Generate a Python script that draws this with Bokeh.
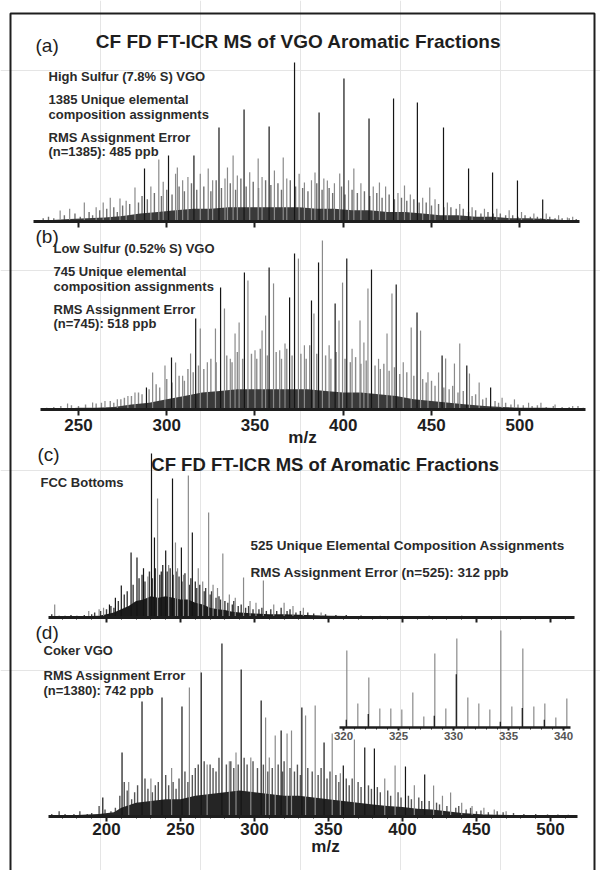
from bokeh.plotting import figure
from bokeh.models import Range1d, LinearAxis, Label, FixedTicker
from bokeh.embed import file_html
from bokeh.resources import INLINE

# ---------------- data (relative abundance, % of panel maximum) ----------------
# (a) High sulfur VGO
a_env_mz = [226, 235, 245, 255, 265, 275, 285, 295, 305, 315, 325, 335, 345, 355, 365, 375,
            385, 395, 405, 415, 425, 435, 445, 455, 465, 475, 485, 495, 505, 515, 525, 533]
a_env_int = [0.5, 1, 1.5, 2, 2.5, 3.5, 5, 6, 7, 8, 8, 9, 9, 9, 9, 9,
             8, 8, 7, 7, 6, 6, 5, 4, 4, 3, 3, 2, 2, 1.5, 1, 0.5]
a_dark_mz = [329.6, 343.8, 358.0, 372.4, 386.3, 400.4, 414.6, 428.5, 442.0, 456.8, 471.0,
             484.6, 498.7, 513.0, 287.4, 301.0, 315.4]
a_dark_int = [59.1, 70.4, 59.7, 100, 68.6, 90, 64.8, 77.4, 74.8, 59.1, 33.3,
              30.8, 25.8, 13.8, 33.3, 41.5, 41.5]
a_light_mz = [239.6, 245, 253.3, 260, 264, 268, 273.5, 277, 282, 291,
              295.5, 298, 305, 306, 309, 312, 319, 323.5, 326, 333,
              334.4, 337.6, 340, 347, 351.8, 354, 361, 366, 368, 375,
              378, 382, 384, 389, 391, 395, 398, 403, 406, 410,
              417, 420.5, 424, 431, 434.7, 438, 445, 449, 452, 459,
              466, 473, 480, 487, 494, 501, 508, 515, 522, 527, 530]
a_light_int = [6.9, 8, 11.9, 9, 12, 15, 14.5, 13, 21.4, 22,
               39, 25, 30, 34, 26, 28, 30, 33.3, 26, 27,
               34, 41.5, 29, 31, 39.6, 28, 32, 40.3, 27, 30,
               24.5, 26, 30.8, 27, 25.8, 24, 30.2, 26, 33.3, 24,
               22, 24.5, 22, 18, 22.6, 17, 15, 21.4, 14, 12,
               11, 9, 8, 8, 7, 6, 5, 5, 4, 2.5, 3]
a_grass_mz = [230, 233, 236, 242, 248, 251, 256, 258, 262, 266, 270, 272, 275, 279, 284, 286,
              289, 293, 297, 300, 303, 307, 310, 314, 317, 321, 325, 328, 331, 336, 339, 342,
              345, 349, 352, 356, 359, 363, 365, 370, 373, 377, 380, 385, 388, 392, 394, 399,
              401, 405, 408, 412, 415, 419, 422, 426, 429, 433, 436, 440, 443, 447, 450, 454,
              457, 461, 464, 468, 471, 475, 478, 482, 485, 489, 492, 496, 499, 503, 506, 510,
              512, 517, 520, 524, 528, 532]
a_grass_int = [2, 3, 2, 4, 5, 3, 6, 4, 7, 8, 9, 6, 10, 11, 12, 16,
               14, 18, 16, 20, 17, 22, 19, 24, 20, 22, 19, 26, 21, 24, 20, 27,
               22, 25, 21, 26, 23, 24, 20, 26, 22, 21, 19, 24, 20, 21, 18, 22,
               17, 20, 18, 19, 16, 18, 15, 17, 14, 15, 13, 14, 12, 12, 10, 11,
               9, 9, 8, 8, 6, 7, 5, 6, 5, 5, 4, 4, 3, 4, 3, 3,
               2, 3, 2, 2, 2, 1.5]

# (b) Low sulfur VGO
b_env_mz = [229, 240, 250, 260, 270, 280, 290, 300, 310, 320, 330, 340, 350, 360, 370,
            380, 390, 400, 410, 420, 430, 440, 450, 460, 470, 480, 490, 500, 515, 536]
b_env_int = [0.3, 0.5, 1, 1, 1.5, 3, 4, 6, 8, 10, 11, 12, 12, 12, 12,
             12, 11, 10, 10, 9, 8, 6, 5, 4, 3, 2, 1.5, 1, 1, 0.5]
b_dark_mz = [316.4, 330.5, 344, 358, 372.4, 386, 402, 416, 430, 441.8, 456, 470, 483.5,
             302.7, 288.5, 369.6, 382, 395.4]
b_dark_int = [53.8, 72.2, 81, 84, 92.3, 87, 89.3, 82.8, 74, 57.4, 32, 26, 13,
              30.8, 13, 66.3, 64.5, 62.7]
b_light_mz = [243.8, 258, 265, 272, 278, 282, 292, 299, 305, 309,
              313.5, 319, 323, 327.6, 332.7, 336, 338.7, 341, 346, 350,
              354, 356, 360.5, 364, 367, 374.6, 378, 383.4, 388.2, 392,
              397.6, 399.6, 405, 409.5, 411.7, 414, 420, 424.8, 427.6, 434,
              438.5, 443.8, 448, 454, 458, 463, 466, 471.5, 477, 490,
              497, 505, 512, 520, 530]
b_light_int = [3.6, 4.1, 5, 6, 8, 10, 21.9, 26, 27.8, 20,
               33.1, 47.9, 28, 47.9, 59.8, 30, 45, 51.5, 76.3, 35,
               46.7, 55.6, 74.6, 35, 39, 89.3, 38, 56.8, 100, 38,
               52.7, 75.1, 36, 52.7, 39.6, 71.6, 30, 45, 68.6, 28,
               48.5, 46.7, 22, 21.9, 30.2, 27.2, 39, 21.3, 16, 7,
               6, 4, 4, 3, 2]
b_grass_mz = [232, 236, 240, 246, 250, 254, 260, 263, 268, 270, 274, 276, 280, 284, 286, 290,
              294, 296, 300, 303, 307, 310, 312, 315, 318, 321, 325, 328, 334, 337, 340, 343,
              348, 351, 353, 357, 362, 365, 368, 371, 376, 379, 381, 385, 390, 393, 396, 401,
              404, 407, 410, 413, 418, 421, 423, 426, 429, 432, 436, 440, 445, 447, 450, 452,
              457, 460, 462, 465, 468, 473, 475, 479, 481, 486, 488, 492, 495, 499, 502, 507,
              510, 515, 519, 524, 528, 533, 536]
b_grass_int = [1, 1.5, 2, 2.5, 2, 3, 3.5, 4, 5, 4, 6, 7, 8, 10, 9, 12,
               15, 13, 18, 16, 20, 17, 24, 22, 26, 24, 30, 28, 32, 28, 34, 30,
               33, 30, 36, 32, 34, 30, 36, 32, 33, 30, 38, 33, 32, 30, 34, 30,
               28, 31, 27, 29, 26, 24, 27, 23, 25, 21, 22, 20, 18, 16, 17, 14,
               13, 12, 14, 10, 11, 8, 9, 6, 7, 5, 4, 4, 3, 3, 2.5, 2,
               2.5, 1.5, 2, 1.5, 1.5, 2, 1]

# (c) FCC bottoms
c_env_mz = [163, 180, 195, 200, 205, 210, 215, 220, 225, 230, 235, 240, 245, 250, 255, 260,
            265, 270, 275, 280, 285, 290, 300, 310, 320, 335, 350, 380, 420, 470, 516]
c_env_int = [0.5, 0.6, 1, 2, 3, 5, 7, 10, 11, 13, 12, 13, 12, 11, 11, 9,
             8, 6, 5, 4.5, 3.5, 3, 2.5, 2, 2, 1.5, 1, 0.7, 0.6, 0.5, 0.5]
c_dark_mz = [210, 216.6, 220.6, 230.4, 232.4, 240, 244.6, 250.6, 258, 225, 237, 206, 202]
c_dark_int = [19.5, 39.6, 36.6, 100, 48.8, 40.9, 84.8, 42.7, 51.8, 30, 28, 12, 8]
c_light_mz = [165, 188, 195, 198, 228, 234.5, 242, 246.6, 248, 252,
              255.3, 262, 265, 269, 272, 275, 278.6, 283, 287, 292.6,
              297, 301, 306, 313, 320, 326, 333, 345]
c_light_int = [7.9, 4, 5, 6, 25, 72.6, 32, 45.7, 30, 26,
               86.6, 30, 22, 64, 20, 18, 39, 14, 12, 24.4,
               10, 9, 22.6, 8, 9, 7, 6, 3]
c_grass_mz = [163, 168, 172, 176, 180, 185, 190, 192, 196, 200, 203, 205, 208, 212, 214, 218,
              222, 224, 226, 229, 231, 233, 236, 238, 241, 243, 245, 247, 249, 251, 253, 256,
              257, 260, 261, 263, 266, 267, 270, 271, 274, 276, 277, 280, 282, 285, 286, 289,
              291, 294, 296, 299, 303, 305, 308, 311, 315, 318, 322, 324, 328, 331, 336, 340,
              348, 355, 362, 372, 385, 400, 418, 440, 460, 480, 500, 512]
c_grass_int = [2, 1, 1, 1.5, 1, 1.5, 2, 3, 4, 5, 7, 6, 10, 14, 16, 20,
               24, 26, 22, 28, 24, 30, 26, 32, 28, 30, 26, 28, 25, 22, 27, 20,
               24, 22, 18, 20, 16, 18, 14, 16, 12, 13, 11, 10, 9, 8, 10, 7,
               8, 6, 7, 5, 5, 6, 4, 5, 4, 6, 4, 5, 3, 4, 3, 2.5,
               2, 1.5, 1.5, 1.2, 1, 1, 1, 1, 0.8, 0.8, 0.8, 0.8]

# (d) Coker VGO
d_env_mz = [162, 180, 195, 205, 210, 220, 230, 240, 250, 260, 270, 280, 290, 300, 310, 320,
            330, 340, 350, 360, 370, 380, 390, 400, 410, 420, 430, 440, 455, 475, 517]
d_env_int = [0.5, 0.8, 1.5, 2.5, 5, 8, 9, 10, 10, 12, 13, 14, 15, 14, 13, 12,
             12, 11, 10, 9, 8, 7, 6, 5.5, 4.5, 4, 3, 2, 1.2, 0.8, 0.5]
d_dark_mz = [197.5, 210.5, 224, 237.5, 251, 264, 278, 291, 304.5, 318, 332, 347, 360,
             374.5, 381, 402, 415]
d_dark_int = [11, 37, 66.5, 68.8, 63.6, 83.2, 100, 85, 67, 49.7, 63, 42.8, 29.5,
              39.9, 39.3, 28.9, 24.3]
d_light_mz = [256, 287.5, 297.5, 307.5, 310, 314, 322, 325, 334.5, 341,
              352.5, 358, 367.5, 388, 395, 408, 421, 427, 432.5, 440,
              447, 455, 462, 470, 215, 230, 244, 268, 283]
d_light_int = [74.6, 37, 34.1, 57.2, 34.1, 46.8, 48, 49.7, 58.4, 64.2,
               48, 25, 44.5, 22, 29.5, 18, 17.9, 12, 13.9, 8,
               6, 5, 4, 3, 20, 22, 28, 30, 32]
d_grass_mz = [163, 168, 172, 178, 182, 187, 190, 195, 199, 203, 206, 209, 212, 214, 217, 219,
              221, 226, 228, 231, 233, 235, 240, 242, 245, 247, 249, 253, 255, 258, 260, 262,
              266, 270, 272, 274, 276, 281, 284, 286, 289, 293, 295, 299, 302, 306, 309, 312,
              316, 319, 320, 324, 327, 329, 331, 336, 339, 343, 345, 349, 351, 355, 357, 362,
              364, 366, 370, 372, 377, 379, 383, 385, 390, 392, 397, 399, 404, 406, 411, 413,
              418, 423, 425, 430, 436, 438, 443, 446, 450, 453, 458, 464, 468, 475, 482, 490,
              498, 505, 512]
d_grass_int = [1.5, 3, 1.5, 1.5, 3, 1.5, 2, 6, 4, 3, 5, 12, 20, 15, 10, 14,
               18, 22, 16, 14, 18, 20, 24, 18, 20, 16, 22, 26, 20, 24, 28, 30,
               32, 30, 28, 26, 34, 30, 32, 28, 30, 34, 30, 32, 28, 30, 26, 28,
               30, 26, 32, 28, 26, 30, 24, 28, 26, 24, 28, 22, 26, 24, 20, 22,
               18, 22, 20, 17, 18, 16, 17, 14, 15, 12, 14, 11, 12, 10, 11, 9,
               9, 8, 7, 6, 5, 6, 4, 5, 3, 3.5, 2.5, 3, 2.5, 2, 1.5, 1.5,
               1.2, 1.2, 1]

# (d) inset, m/z 320-340
ins_mz = [320.3, 321.3, 322.3, 323.3, 324.3, 325.3, 326.3, 327.3, 328.3, 329.3, 330.3,
          331.3, 332.3, 333.3, 334.3, 335.3, 336.3, 337.3, 338.3, 339.3, 340.3]
ins_int = [79.4, 24.7, 51.5, 19.6, 19.6, 18.6, 36.1, 11.3, 76.3, 19.6, 91.8,
           30.9, 24.7, 18.6, 100, 21.6, 81.4, 21.6, 24.7, 10.3, 29.9]
ins_dark_mz = [320.25, 322.25, 328.25, 330.25, 334.25, 336.25, 338.25]
ins_dark_int = [8, 14, 12, 55, 6, 20, 8]

ab_ticks = [250, 300, 350, 400, 450, 500]
cd_ticks = [200, 250, 300, 350, 400, 450, 500]
cd_minor = [170, 180, 190, 210, 220, 230, 240, 260, 270, 280, 290, 310, 320, 330, 340,
            360, 370, 380, 390, 410, 420, 430, 440, 460, 470, 480, 490, 510]
ins_ticks = [320, 325, 330, 335, 340]
ins_minor = [321, 322, 323, 324, 326, 327, 328, 329, 331, 332, 333, 334, 336, 337, 338, 339]

TITLE_A = "CF FD FT-ICR MS of VGO Aromatic Fractions"
TITLE_C = "CF FD FT-ICR MS of Aromatic Fractions"
TEXT_A = ["High Sulfur (7.8% S) VGO", "1385 Unique elemental", "composition assignments",
          "RMS Assignment Error", "(n=1385): 485 ppb"]
TEXT_B = ["Low Sulfur (0.52% S) VGO", "745 Unique elemental", "composition assignments",
          "RMS Assignment Error", "(n=745): 518 ppb"]
TEXT_C = ["FCC Bottoms", "525 Unique Elemental Composition Assignments",
          "RMS Assignment Error (n=525): 312 ppb"]
TEXT_D = ["Coker VGO", "RMS Assignment Error", "(n=1380): 742 ppb"]
XLABEL = "m/z"

# ---------------- figure ----------------
W, H = 600, 870
FONT = "Liberation Sans"
INK = "#1e1e1e"


def cy(page_y):
    return H - page_y


def yrange(base, top):
    s = (base - top) / 100.0
    return Range1d(-(H - base) / s, base / s)


p = figure(width=W, height=H, output_backend="svg", toolbar_location=None,
           x_axis_location=None, y_axis_location=None, min_border=0,
           x_range=Range1d(0, W), y_range=Range1d(0, H))
p.outline_line_color = None
p.background_fill_color = "white"
p.border_fill_color = "white"

p.extra_x_ranges = {"ab": Range1d(205.81, 545.75),
                    "cd": Range1d(128.38, 533.78),
                    "ins": Range1d(288.82, 343.36)}
p.extra_y_ranges = {"a": yrange(221, 62), "b": yrange(409, 240),
                    "c": yrange(617, 453), "d": yrange(816, 643),
                    "ins": yrange(727, 630)}

# outer frame
p.quad(left=10, right=594, bottom=-20, top=cy(13),
       fill_color=None, line_color=INK, line_width=2)


def spectrum(xr, yr, core_x, core_y, grass_x, grass_y, dark_x, dark_y, light_x, light_y,
             grass_color="#707070", core_color="#3a3a3a"):
    if grass_x:
        p.segment(x0=grass_x, y0=0, x1=grass_x, y1=grass_y, line_color=grass_color,
                  line_width=1.4, x_range_name=xr, y_range_name=yr)
    if core_x:
        p.varea(x=core_x, y1=0, y2=core_y, fill_color=core_color,
                x_range_name=xr, y_range_name=yr)
    p.segment(x0=light_x, y0=0, x1=light_x, y1=light_y, line_color="#8a8a8a",
              line_width=1.2, x_range_name=xr, y_range_name=yr)
    p.segment(x0=dark_x, y0=0, x1=dark_x, y1=dark_y, line_color="#151515",
              line_width=1.2, x_range_name=xr, y_range_name=yr)


spectrum("ab", "a", a_env_mz, a_env_int, a_grass_mz, a_grass_int,
         a_dark_mz, a_dark_int, a_light_mz, a_light_int)
spectrum("ab", "b", b_env_mz, b_env_int, b_grass_mz, b_grass_int,
         b_dark_mz, b_dark_int, b_light_mz, b_light_int, grass_color="#8c8c8c")
spectrum("cd", "c", c_env_mz, c_env_int, c_grass_mz, c_grass_int,
         c_dark_mz, c_dark_int, c_light_mz, c_light_int,
         grass_color="#3c3c3c", core_color="#1c1c1c")
spectrum("cd", "d", d_env_mz, d_env_int, d_grass_mz, d_grass_int,
         d_dark_mz, d_dark_int, d_light_mz, d_light_int,
         grass_color="#555555", core_color="#252525")
spectrum("ins", "ins", None, None, None, None, ins_dark_mz, ins_dark_int, ins_mz, ins_int)


def axis(xr, yr, bounds, ticks, minor, labels, size, standoff, tick_out, minor_out,
         line_w, label_color=INK):
    ax = LinearAxis(x_range_name=xr, y_range_name=yr, fixed_location=0, bounds=bounds,
                    ticker=FixedTicker(ticks=ticks, minor_ticks=minor))
    ax.axis_line_width = line_w
    ax.axis_line_color = INK
    ax.major_tick_line_color = INK
    ax.major_tick_line_width = 2
    ax.major_tick_in = 0
    ax.major_tick_out = tick_out
    ax.minor_tick_line_color = INK if minor else None
    ax.minor_tick_in = 0
    ax.minor_tick_out = minor_out
    ax.major_label_text_font = FONT
    ax.major_label_text_font_style = "bold"
    ax.major_label_text_font_size = size
    ax.major_label_text_color = label_color
    ax.major_label_standoff = standoff
    if not labels:
        ax.major_label_overrides = {t: "" for t in ticks}
    p.add_layout(ax, "below")


axis("ab", "a", (224.5, 534), ab_ticks, [], False, "17px", 3, 6, 0, 3)
axis("ab", "b", (228.5, 537), ab_ticks, [], True, "17px", 3, 6, 0, 3)
axis("cd", "c", (161, 516), cd_ticks, cd_minor, False, "17px", 1, 5, 2, 3)
axis("cd", "d", (161, 518), cd_ticks, cd_minor, True, "17px", 1, 5, 2, 3)
axis("ins", "ins", (319.6, 340.6), ins_ticks, ins_minor, True, "11.5px", 1, 3, 2, 2.5,
     "#555555")


def label(px, py, text, size, bold=True, align="left", color="#2a2a2a"):
    p.add_layout(Label(x=px, y=cy(py), text=text, text_font=FONT,
                       text_font_style="bold" if bold else "normal",
                       text_font_size=size, text_color=color,
                       text_align=align, text_baseline="middle"))


# panel letters and titles
label(35, 45, "(a)", "19px", bold=False, color=INK)
label(298, 41, TITLE_A, "19px", align="center", color=INK)
label(35, 236, "(b)", "19px", bold=False, color=INK)
label(37, 454, "(c)", "19px", bold=False, color=INK)
label(325, 464, TITLE_C, "18.5px", align="center", color=INK)
label(35, 632, "(d)", "19px", bold=False, color=INK)

for t, yy in zip(TEXT_A, [76, 99, 114, 137, 151]):
    label(48, yy, t, "13px")
for t, yy in zip(TEXT_B, [248, 271, 286, 309, 323]):
    label(53, yy, t, "13px")
label(40, 482, TEXT_C[0], "13px")
label(250, 545, TEXT_C[1], "13.5px")
label(250, 572, TEXT_C[2], "13.5px")
for t, yy in zip(TEXT_D, [650, 675, 690]):
    label(43, yy, t, "13px")

label(302, 437, XLABEL, "17px", align="center", color=INK)
label(325, 846, XLABEL, "17px", align="center", color=INK)

open("out.html", "w").write(file_html(p, INLINE))
